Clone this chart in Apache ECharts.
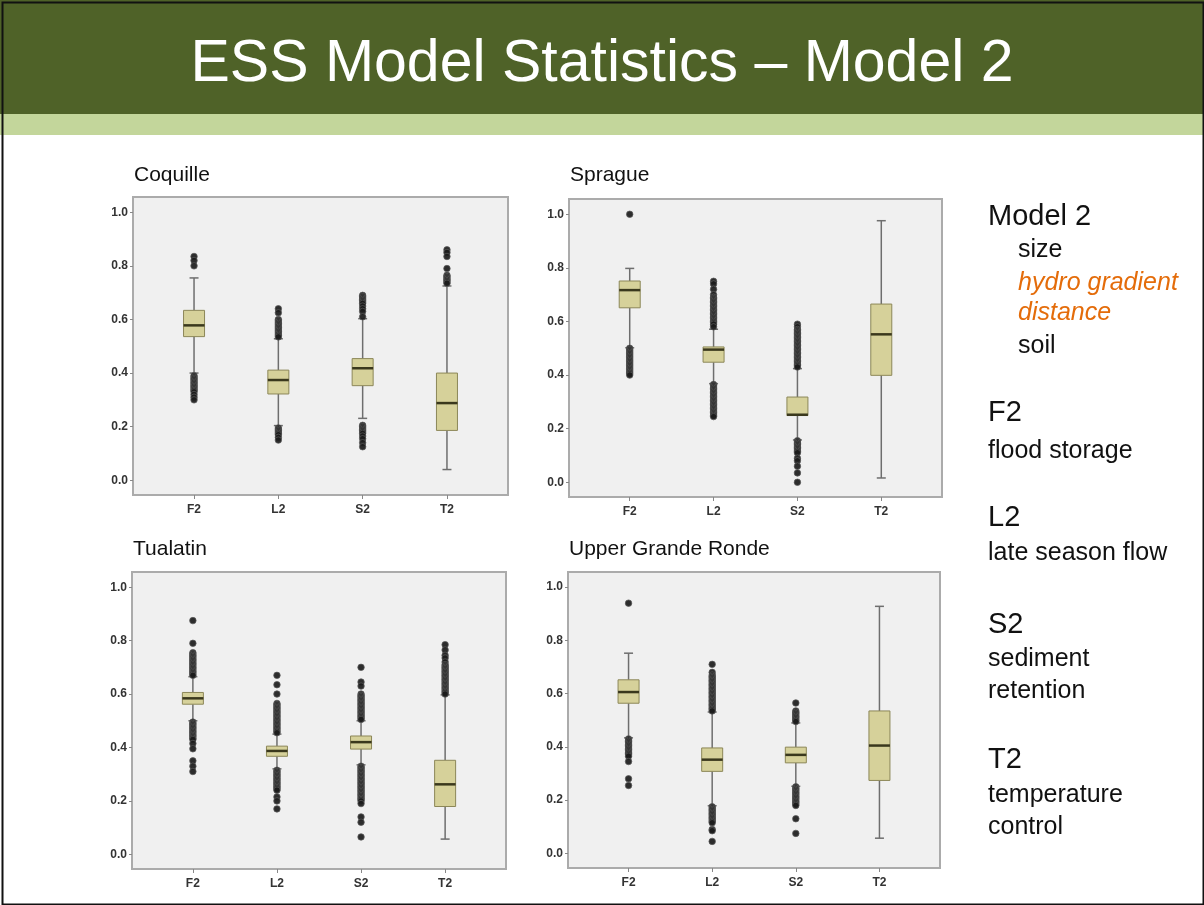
<!DOCTYPE html>
<html>
<head>
<meta charset="utf-8">
<title>ESS Model Statistics – Model 2</title>
<script src="https://cdn.jsdelivr.net/npm/echarts@6/dist/echarts.min.js"></script>
<style>
  html, body { margin: 0; padding: 0; background: #fff; }
  #chart { width: 1204px; height: 905px; }
</style>
</head>
<body>
<div id="chart"></div>
<script>
var categories = ['F2', 'L2', 'S2', 'T2'];
var yTicks = [0, 0.2, 0.4, 0.6, 0.8, 1.0];
var panelNames = ['Coquille', 'Sprague', 'Tualatin', 'Upper Grande Ronde'];

// per category: [lower whisker, Q1, median, Q3, upper whisker]
var coquilleBoxes = [
  [0.40, 0.536, 0.578, 0.634, 0.755],
  [0.204, 0.322, 0.374, 0.411, 0.528],
  [0.231, 0.353, 0.418, 0.454, 0.603],
  [0.04, 0.186, 0.288, 0.40, 0.725]
];
var spragueBoxes = [
  [0.502, 0.651, 0.717, 0.751, 0.798],
  [0.368, 0.448, 0.495, 0.505, 0.571],
  [0.158, 0.249, 0.252, 0.318, 0.424],
  [0.016, 0.399, 0.552, 0.665, 0.976]
];
var tualatinBoxes = [
  [0.50, 0.562, 0.584, 0.606, 0.665],
  [0.32, 0.367, 0.387, 0.405, 0.45],
  [0.335, 0.394, 0.42, 0.443, 0.50],
  [0.057, 0.179, 0.262, 0.352, 0.597]
];
var rondeBoxes = [
  [0.434, 0.564, 0.606, 0.652, 0.752],
  [0.179, 0.308, 0.352, 0.396, 0.531],
  [0.252, 0.34, 0.37, 0.399, 0.49],
  [0.057, 0.274, 0.405, 0.535, 0.928]
];

// outlier values per category (F2, L2, S2, T2)
var coquilleOutliers = [
  [0.835, 0.82, 0.80, 0.39, 0.385, 0.38, 0.375, 0.37, 0.365, 0.36, 0.355, 0.35, 0.345, 0.34, 0.335, 0.33, 0.32, 0.31, 0.30],
  [0.64, 0.625, 0.60, 0.595, 0.59, 0.585, 0.58, 0.575, 0.57, 0.565, 0.56, 0.555, 0.55, 0.545, 0.54, 0.535, 0.195, 0.19, 0.185, 0.18, 0.175, 0.17, 0.16, 0.15],
  [0.69, 0.685, 0.68, 0.675, 0.67, 0.665, 0.66, 0.65, 0.64, 0.63, 0.61, 0.205, 0.20, 0.195, 0.19, 0.185, 0.18, 0.175, 0.165, 0.155, 0.14, 0.125],
  [0.86, 0.85, 0.835, 0.79, 0.765, 0.76, 0.755, 0.75, 0.745, 0.74, 0.735]
];
var spragueOutliers = [
  [1.0, 0.50, 0.495, 0.49, 0.485, 0.48, 0.475, 0.47, 0.465, 0.46, 0.455, 0.45, 0.445, 0.44, 0.435, 0.43, 0.425, 0.42, 0.415, 0.41, 0.405, 0.40],
  [0.75, 0.74, 0.72, 0.70, 0.69, 0.685, 0.68, 0.675, 0.67, 0.665, 0.66, 0.655, 0.65, 0.645, 0.64, 0.635, 0.63, 0.625, 0.62, 0.615, 0.61, 0.605, 0.60, 0.595, 0.59, 0.58,
   0.365, 0.36, 0.355, 0.35, 0.345, 0.34, 0.335, 0.33, 0.325, 0.32, 0.315, 0.31, 0.305, 0.30, 0.295, 0.29, 0.285, 0.28, 0.275, 0.27, 0.265, 0.26, 0.255, 0.25, 0.245],
  [0.59, 0.58, 0.57, 0.565, 0.56, 0.555, 0.55, 0.545, 0.54, 0.535, 0.53, 0.525, 0.52, 0.515, 0.51, 0.505, 0.50, 0.495, 0.49, 0.485, 0.48, 0.475, 0.47, 0.465, 0.46, 0.455, 0.45, 0.445, 0.44, 0.435, 0.43,
   0.155, 0.15, 0.145, 0.14, 0.135, 0.13, 0.125, 0.12, 0.115, 0.11, 0.09, 0.08, 0.06, 0.035, 0.0],
  []
];
var tualatinOutliers = [
  [0.875, 0.79, 0.755, 0.75, 0.745, 0.74, 0.735, 0.73, 0.725, 0.72, 0.715, 0.71, 0.705, 0.70, 0.695, 0.69, 0.685, 0.68, 0.675, 0.67,
   0.495, 0.49, 0.485, 0.48, 0.475, 0.47, 0.465, 0.46, 0.455, 0.45, 0.445, 0.44, 0.435, 0.43, 0.415, 0.395, 0.35, 0.33, 0.31],
  [0.67, 0.635, 0.60, 0.565, 0.56, 0.555, 0.55, 0.545, 0.54, 0.535, 0.53, 0.525, 0.52, 0.515, 0.51, 0.505, 0.50, 0.495, 0.49, 0.485, 0.48, 0.475, 0.47, 0.465, 0.46, 0.455,
   0.315, 0.31, 0.305, 0.30, 0.295, 0.29, 0.285, 0.28, 0.275, 0.27, 0.265, 0.26, 0.255, 0.25, 0.245, 0.24, 0.215, 0.20, 0.17],
  [0.70, 0.645, 0.63, 0.60, 0.595, 0.59, 0.585, 0.58, 0.575, 0.57, 0.565, 0.56, 0.555, 0.55, 0.545, 0.54, 0.535, 0.53, 0.525, 0.52, 0.515, 0.51, 0.505,
   0.33, 0.325, 0.32, 0.315, 0.31, 0.305, 0.30, 0.295, 0.29, 0.285, 0.28, 0.275, 0.27, 0.265, 0.26, 0.255, 0.25, 0.245, 0.24, 0.235, 0.23, 0.225, 0.22, 0.215, 0.21, 0.205, 0.20, 0.19, 0.14, 0.12, 0.065],
  [0.785, 0.765, 0.745, 0.735, 0.72, 0.71, 0.705, 0.70, 0.695, 0.69, 0.685, 0.68, 0.675, 0.67, 0.665, 0.66, 0.655, 0.65, 0.645, 0.64, 0.635, 0.63, 0.625, 0.62, 0.615, 0.61, 0.605, 0.60]
];
var rondeOutliers = [
  [0.94, 0.43, 0.425, 0.42, 0.415, 0.41, 0.405, 0.40, 0.395, 0.39, 0.385, 0.38, 0.375, 0.37, 0.365, 0.345, 0.28, 0.255],
  [0.71, 0.68, 0.67, 0.665, 0.66, 0.655, 0.65, 0.645, 0.64, 0.635, 0.63, 0.625, 0.62, 0.615, 0.61, 0.605, 0.60, 0.595, 0.59, 0.585, 0.58, 0.575, 0.57, 0.565, 0.56, 0.555, 0.55, 0.545, 0.54, 0.535,
   0.175, 0.17, 0.165, 0.16, 0.155, 0.15, 0.145, 0.14, 0.135, 0.13, 0.125, 0.12, 0.115, 0.09, 0.085, 0.045],
  [0.565, 0.535, 0.53, 0.525, 0.52, 0.515, 0.51, 0.505, 0.50, 0.495, 0.25, 0.245, 0.24, 0.235, 0.23, 0.225, 0.22, 0.215, 0.21, 0.205, 0.20, 0.195, 0.19, 0.185, 0.18, 0.13, 0.075],
  []
];

var boxesByPanel = [coquilleBoxes, spragueBoxes, tualatinBoxes, rondeBoxes];
var outliersByPanel = [coquilleOutliers, spragueOutliers, tualatinOutliers, rondeOutliers];

// plot frames in pixels
var frames = [
  { left: 133, top: 197, width: 375, height: 298 },
  { left: 569, top: 199, width: 373, height: 298 },
  { left: 132, top: 572, width: 374, height: 297 },
  { left: 568, top: 572, width: 372, height: 296 }
];

var LABEL_FONT = '"Liberation Sans", Arial, sans-serif';

function renderBox(params, api) {
  var x = api.value(0);
  var lo = api.coord([x, api.value(1)]);
  var q1 = api.coord([x, api.value(2)]);
  var med = api.coord([x, api.value(3)]);
  var q3 = api.coord([x, api.value(4)]);
  var hi = api.coord([x, api.value(5)]);
  var bw = 21, cw = 9;
  var cx = q1[0];
  var wStyle = { stroke: '#6e6e6e', lineWidth: 1.5 };
  return {
    type: 'group',
    children: [
      { type: 'line', shape: { x1: cx, y1: hi[1], x2: cx, y2: q3[1] }, style: wStyle },
      { type: 'line', shape: { x1: cx, y1: q1[1], x2: cx, y2: lo[1] }, style: wStyle },
      { type: 'line', shape: { x1: cx - cw / 2, y1: hi[1], x2: cx + cw / 2, y2: hi[1] }, style: wStyle },
      { type: 'line', shape: { x1: cx - cw / 2, y1: lo[1], x2: cx + cw / 2, y2: lo[1] }, style: wStyle },
      { type: 'rect', shape: { x: cx - bw / 2, y: q3[1], width: bw, height: q1[1] - q3[1] },
        style: { fill: '#d6d19a', stroke: '#8c8758', lineWidth: 1 } },
      { type: 'line', shape: { x1: cx - bw / 2, y1: med[1], x2: cx + bw / 2, y2: med[1] },
        style: { stroke: '#3a381d', lineWidth: 2.5 } }
    ]
  };
}

var grid = [], xAxis = [], yAxis = [], series = [], title = [];

frames.forEach(function (f, p) {
  grid.push({
    left: f.left, top: f.top, width: f.width, height: f.height,
    show: true, backgroundColor: '#f0f0f0', borderColor: '#ababab', borderWidth: 2
  });
  xAxis.push({
    type: 'value', gridIndex: p, min: -0.724, max: 3.724,
    splitLine: { show: false },
    axisLine: { show: false, onZero: false },
    axisTick: { show: true, customValues: [0, 1, 2, 3], length: 4, lineStyle: { color: '#888' } },
    axisLabel: {
      customValues: [0, 1, 2, 3], margin: 9,
      formatter: function (v) { return categories[Math.round(v)]; },
      color: '#333', fontSize: 12, fontWeight: 'bold', fontFamily: LABEL_FONT
    }
  });
  yAxis.push({
    type: 'value', gridIndex: p, min: -0.055, max: 1.057,
    splitLine: { show: false },
    axisLine: { show: false, onZero: false },
    axisTick: { show: true, customValues: yTicks, length: 3, lineStyle: { color: '#888' } },
    axisLabel: {
      customValues: yTicks, margin: 5,
      formatter: function (v) { return v.toFixed(1); },
      color: '#333', fontSize: 12, fontWeight: 'bold', fontFamily: LABEL_FONT
    }
  });
  title.push({
    text: panelNames[p],
    left: f.left - 4, top: p < 2 ? 160 : 534,
    textStyle: { color: '#111', fontSize: 21, fontWeight: 'normal', fontFamily: LABEL_FONT }
  });

  var boxData = boxesByPanel[p].map(function (b, i) { return [i].concat(b); });
  series.push({
    type: 'custom', name: panelNames[p] + ' boxes',
    xAxisIndex: p, yAxisIndex: p,
    renderItem: renderBox,
    encode: { x: 0, y: [1, 2, 3, 4, 5] },
    data: boxData, z: 3, silent: true
  });

  var pts = [];
  outliersByPanel[p].forEach(function (vals, i) {
    vals.forEach(function (v) { pts.push([i, v]); });
  });
  series.push({
    type: 'scatter', name: panelNames[p] + ' outliers',
    xAxisIndex: p, yAxisIndex: p,
    data: pts, symbol: 'circle', symbolSize: 6.5,
    itemStyle: { color: '#1c1c1c', borderColor: '#5a5a5a', borderWidth: 0.8, opacity: 0.92 },
    z: 4, silent: true
  });
});

// right-hand legend text
var sideText = [
  { t: 'Model 2', x: 988, y: 217, head: true },
  { t: 'size', x: 1018, y: 250 },
  { t: 'hydro gradient', x: 1018, y: 283, hl: true },
  { t: 'distance', x: 1018, y: 313, hl: true },
  { t: 'soil', x: 1018, y: 346 },
  { t: 'F2', x: 988, y: 413, head: true },
  { t: 'flood storage', x: 988, y: 451 },
  { t: 'L2', x: 988, y: 518, head: true },
  { t: 'late season flow', x: 988, y: 553 },
  { t: 'S2', x: 988, y: 625, head: true },
  { t: 'sediment', x: 988, y: 659 },
  { t: 'retention', x: 988, y: 691 },
  { t: 'T2', x: 988, y: 760, head: true },
  { t: 'temperature', x: 988, y: 795 },
  { t: 'control', x: 988, y: 827 }
];

var graphic = [
  { type: 'rect', left: 0, top: 0, shape: { width: 1204, height: 114 }, style: { fill: '#4f6228' }, z: 0 },
  { type: 'rect', left: 0, top: 114, shape: { width: 1204, height: 21 }, style: { fill: '#c3d69b' }, z: 0 },
  { type: 'text', x: 602, y: 65, z: 1,
    style: { text: 'ESS Model Statistics – Model 2', fill: '#ffffff', align: 'center', verticalAlign: 'middle',
      font: '59px "Liberation Sans", Arial, sans-serif' } },
  { type: 'rect', left: 0, top: 0, shape: { x: 1, y: 1, width: 1201, height: 902 },
    style: { fill: 'none', stroke: '#111', lineWidth: 2 }, z: 5 }
];
sideText.forEach(function (s) {
  graphic.push({
    type: 'text', x: s.x, y: s.y, z: 1,
    style: {
      text: s.t, fill: s.hl ? '#e46c0a' : '#111', verticalAlign: 'middle',
      font: (s.hl ? 'italic ' : '') + (s.head ? '29px' : '25px') + ' "Liberation Sans", Arial, sans-serif'
    }
  });
});

var chart = echarts.init(document.getElementById('chart'), null, { renderer: 'canvas' });
chart.setOption({
  animation: false,
  backgroundColor: '#ffffff',
  title: title,
  grid: grid,
  xAxis: xAxis,
  yAxis: yAxis,
  series: series,
  graphic: graphic
});
</script>
</body>
</html>
